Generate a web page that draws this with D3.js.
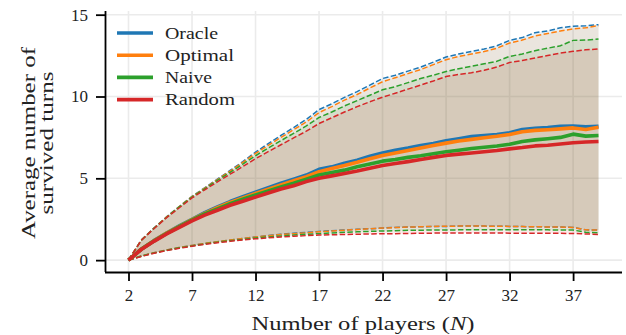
<!DOCTYPE html>
<html><head><meta charset="utf-8">
<script src="https://cdn.jsdelivr.net/npm/d3@7"></script>
<style>
html,body{margin:0;padding:0;background:#fff;}
svg{display:block;}
text{font-family:"Liberation Serif","DejaVu Serif",serif;fill:#222;}
</style></head>
<body><svg id="c" width="626" height="335"></svg>
<script>
const players = d3.range(2, 40);
const xTicks = [2, 7, 12, 17, 22, 27, 32, 37];
const yTicks = [0, 5, 10, 15];
const seriesNames = ["Oracle", "Optimal", "Naive", "Random"];
const seriesColors = ["#1f77b4", "#ff7f0e", "#2ca02c", "#d62728"];

const oracleMean = [0,0.67,1.19,1.66,2.09,2.5,2.9,3.25,3.58,3.87,4.15,4.42,4.7,4.95,5.2,5.55,5.7,5.92,6.1,6.35,6.55,6.72,6.85,7.0,7.12,7.3,7.42,7.55,7.62,7.68,7.78,7.98,8.05,8.1,8.18,8.2,8.15,8.18];
const optimalMean = [0,0.67,1.18,1.65,2.07,2.48,2.86,3.2,3.52,3.8,4.07,4.33,4.6,4.85,5.1,5.4,5.6,5.78,5.98,6.2,6.4,6.55,6.7,6.85,7.0,7.15,7.28,7.38,7.48,7.57,7.68,7.85,7.93,7.97,8.02,8.08,7.98,8.12];
const naiveMean = [0,0.66,1.17,1.63,2.05,2.45,2.82,3.13,3.45,3.72,3.98,4.22,4.47,4.7,4.95,5.2,5.35,5.5,5.7,5.88,6.05,6.15,6.28,6.38,6.5,6.62,6.72,6.82,6.9,6.98,7.08,7.25,7.35,7.42,7.5,7.7,7.58,7.62];
const randomMean = [0,0.65,1.15,1.6,2.0,2.4,2.75,3.05,3.35,3.6,3.85,4.1,4.35,4.55,4.8,5.0,5.15,5.3,5.45,5.62,5.78,5.9,6.02,6.15,6.28,6.4,6.48,6.55,6.62,6.7,6.8,6.88,6.98,7.02,7.1,7.17,7.22,7.25];

const oracleUpper = [0,1.22,1.96,2.65,3.28,3.9,4.42,4.95,5.48,6.02,6.6,7.12,7.62,8.1,8.6,9.2,9.55,9.95,10.3,10.7,11.1,11.3,11.55,11.8,12.1,12.41,12.6,12.75,12.9,13.1,13.43,13.6,13.9,14.0,14.2,14.29,14.32,14.39];
const optimalUpper = [0,1.22,1.95,2.64,3.27,3.88,4.4,4.92,5.44,5.97,6.52,7.02,7.5,7.97,8.45,9.02,9.38,9.78,10.12,10.52,10.9,11.15,11.4,11.65,11.95,12.25,12.45,12.6,12.75,12.95,13.27,13.45,13.7,13.85,14.0,14.13,14.2,14.33];
const naiveUpper = [0,1.21,1.94,2.62,3.25,3.85,4.36,4.87,5.37,5.87,6.38,6.85,7.3,7.75,8.2,8.72,9.05,9.42,9.75,10.08,10.41,10.6,10.85,11.1,11.3,11.53,11.7,11.85,12.0,12.15,12.45,12.6,12.8,12.95,13.1,13.43,13.45,13.51];
const randomUpper = [0,1.2,1.92,2.6,3.2,3.8,4.3,4.78,5.25,5.72,6.2,6.63,7.05,7.47,7.88,8.35,8.7,9.05,9.38,9.68,9.96,10.2,10.45,10.7,10.95,11.22,11.35,11.45,11.6,11.8,12.08,12.2,12.35,12.5,12.65,12.76,12.85,12.9];

const oracleLower = [0,0.25,0.45,0.62,0.77,0.9,1.02,1.13,1.23,1.33,1.42,1.5,1.58,1.64,1.7,1.75,1.8,1.84,1.88,1.92,1.96,2.0,2.02,2.04,2.05,2.06,2.08,2.08,2.08,2.07,2.06,2.05,2.04,2.03,2.02,2.0,1.85,1.84];
const optimalLower = [0,0.25,0.45,0.62,0.77,0.9,1.02,1.13,1.23,1.32,1.41,1.49,1.56,1.62,1.67,1.73,1.78,1.83,1.87,1.92,1.96,1.99,2.02,2.04,2.06,2.07,2.08,2.08,2.08,2.07,2.06,2.05,2.04,2.03,2.02,2.0,1.85,1.84];
const naiveLower = [0,0.24,0.44,0.6,0.75,0.87,0.99,1.09,1.19,1.27,1.35,1.42,1.48,1.53,1.58,1.62,1.66,1.7,1.73,1.76,1.78,1.8,1.82,1.83,1.84,1.84,1.85,1.85,1.85,1.85,1.85,1.85,1.85,1.85,1.84,1.84,1.7,1.67];
const randomLower = [0,0.22,0.42,0.58,0.72,0.85,0.96,1.06,1.15,1.23,1.3,1.36,1.42,1.46,1.5,1.53,1.55,1.57,1.58,1.6,1.61,1.62,1.63,1.64,1.65,1.66,1.66,1.66,1.66,1.66,1.65,1.65,1.65,1.64,1.64,1.63,1.6,1.57];

const means = [oracleMean, optimalMean, naiveMean, randomMean];
const uppers = [oracleUpper, optimalUpper, naiveUpper, randomUpper];
const lowers = [oracleLower, optimalLower, naiveLower, randomLower];

const svg = d3.select("#c");
const L = 105, R = 622, T = 11, B = 272;
const x = d3.scaleLinear().domain([0.15, 40.85]).range([L, R]);
const y = d3.scaleLinear().domain([-0.725, 15.225]).range([B, T]);

// grid
const grid = svg.append("g");
grid.selectAll("line.vx").data(xTicks).enter().append("line")
  .attr("x1", d => x(d)).attr("x2", d => x(d)).attr("y1", T).attr("y2", B)
  .attr("stroke", "#ebebeb").attr("stroke-width", 1.6);
grid.selectAll("line.hy").data(yTicks).enter().append("line")
  .attr("y1", d => y(d)).attr("y2", d => y(d)).attr("x1", L).attr("x2", R)
  .attr("stroke", "#ebebeb").attr("stroke-width", 1.6);

const plot = svg.append("g");
seriesNames.forEach((name, i) => {
  const pts = players.map((p, j) => ({p, m: means[i][j], u: uppers[i][j], l: lowers[i][j]}));
  plot.append("path").datum(pts)
    .attr("d", d3.area().x(d => x(d.p)).y0(d => y(d.l)).y1(d => y(d.u)))
    .attr("fill", seriesColors[i]).attr("fill-opacity", 0.1);
});
seriesNames.forEach((name, i) => {
  const pts = players.map((p, j) => ({p, m: means[i][j], u: uppers[i][j], l: lowers[i][j]}));
  ["u", "l"].forEach(k => {
    plot.append("path").datum(pts)
      .attr("d", d3.line().x(d => x(d.p)).y(d => y(d[k])))
      .attr("fill", "none").attr("stroke", seriesColors[i]).attr("stroke-width", 1.5)
      .attr("stroke-dasharray", "5.5,2.4");
  });
});
seriesNames.forEach((name, i) => {
  const pts = players.map((p, j) => ({p, m: means[i][j]}));
  plot.append("path").datum(pts)
    .attr("d", d3.line().x(d => x(d.p)).y(d => y(d.m)))
    .attr("fill", "none").attr("stroke", seriesColors[i]).attr("stroke-width", 3.6)
    .attr("stroke-linejoin", "round");
});

// axes
const xAxis = d3.axisBottom(x).tickValues(xTicks).tickSize(9).tickPadding(8);
const gx = svg.append("g").attr("transform", `translate(0,${B})`).call(xAxis);
const yAxis = d3.axisLeft(y).tickValues(yTicks).tickSize(9).tickPadding(8);
const gy = svg.append("g").attr("transform", `translate(${L},0)`).call(yAxis);
[gx, gy].forEach(g => {
  g.select(".domain").attr("stroke", "#000").attr("stroke-width", 1.8);
  g.selectAll(".tick line").attr("stroke", "#000").attr("stroke-width", 1.8);
  g.selectAll(".tick text").style("font-family", '"Liberation Serif", serif').style("font-size", "17px").attr("fill", "#222");
});
gx.select(".domain").attr("d", `M${L},0.5H${R}`);
gy.select(".domain").attr("d", `M0.5,${T}V${B}`);

// axis labels
svg.append("text").attr("x", 363).attr("y", 330).attr("text-anchor", "middle")
  .style("font-size", "19px").attr("textLength", 223).attr("lengthAdjust", "spacingAndGlyphs")
  .html('Number of players (<tspan font-style="italic">N</tspan>)');
const yl = svg.append("g").attr("transform", "translate(0,143) rotate(-90)");
yl.append("text").attr("x", 0).attr("y", 35).attr("text-anchor", "middle").style("font-size", "19px")
  .attr("textLength", 192).attr("lengthAdjust", "spacingAndGlyphs").text("Average number of");
yl.append("text").attr("x", 0).attr("y", 53).attr("text-anchor", "middle").style("font-size", "19px")
  .attr("textLength", 143).attr("lengthAdjust", "spacingAndGlyphs").text("survived turns");

// legend
const legendWidths = [53, 69, 47, 70];
const lg = svg.append("g");
seriesNames.forEach((name, i) => {
  const yy = 33 + i * 22.2;
  lg.append("line").attr("x1", 117).attr("x2", 153).attr("y1", yy).attr("y2", yy)
    .attr("stroke", seriesColors[i]).attr("stroke-width", 3.6);
  lg.append("text").attr("x", 165).attr("y", yy + 5.5).style("font-size", "17.5px")
    .attr("textLength", legendWidths[i]).attr("lengthAdjust", "spacingAndGlyphs").text(name);
});
</script></body></html>
